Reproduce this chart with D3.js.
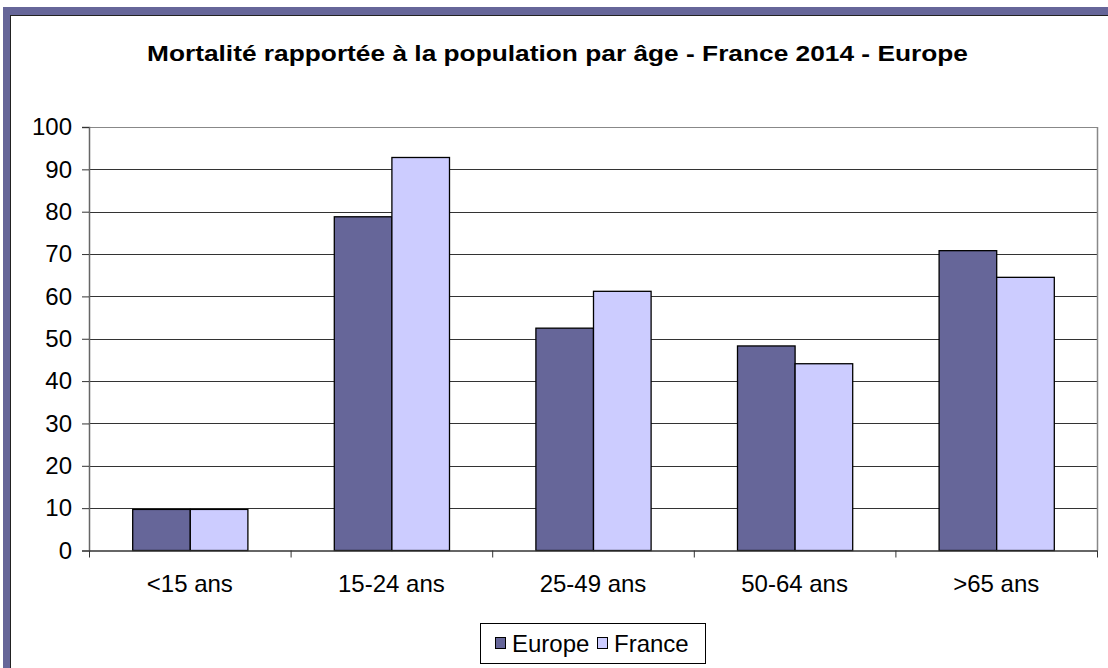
<!DOCTYPE html>
<html><head><meta charset="utf-8">
<script src="https://cdn.jsdelivr.net/npm/d3@7"></script>
<style>
html,body{margin:0;padding:0;background:#fff;}
svg{display:block;font-family:"Liberation Sans",Arial,sans-serif;}
</style></head>
<body><svg id="c" width="1108" height="668"></svg>
<script>
const title = "Mortalité rapportée à la population par âge - France 2014 - Europe";
const categories = ["<15 ans","15-24 ans","25-49 ans","50-64 ans",">65 ans"];
const seriesNames = ["Europe","France"];
const europe = [9.7, 78.8, 52.5, 48.3, 70.8];
const france = [9.7, 92.8, 61.2, 44.1, 64.5];
const yTicks = [0,10,20,30,40,50,60,70,80,90,100];
const colors = ["#666699","#ccccff"];

const svg = d3.select("#c");
// frame
svg.append("rect").attr("x",3).attr("y",7).attr("width",1105).attr("height",661).attr("fill","#666699");
svg.append("rect").attr("x",11).attr("y",15.5).attr("width",1097).attr("height",653).attr("fill","#fff");
svg.append("line").attr("x1",10.5).attr("x2",10.5).attr("y1",15).attr("y2",668).attr("stroke","#222").attr("stroke-width",1);
svg.append("line").attr("x1",10.5).attr("x2",1108).attr("y1",15.5).attr("y2",15.5).attr("stroke","#222").attr("stroke-width",1);

const L=89, R=1097, T=127, B=550.5;
const FS = 24;
const x = d3.scaleBand().domain(categories).range([L,R]).paddingInner(0).paddingOuter(0);
const y = d3.scaleLinear().domain([0,100]).range([B,T]);

svg.append("text").attr("x",557.5).attr("y",61).attr("text-anchor","middle")
  .attr("font-weight","bold").attr("font-size",22.5).attr("fill","#000")
  .attr("textLength",821).attr("lengthAdjust","spacingAndGlyphs").text(title);

// gridlines
svg.append("g").selectAll("line").data(yTicks.filter(d=>d>0)).join("line")
  .attr("x1",L).attr("x2",R).attr("y1",d=>Math.round(y(d))+0.5).attr("y2",d=>Math.round(y(d))+0.5)
  .attr("stroke",d=>d===100?"#888":"#333").attr("stroke-width",1);
// right border
svg.append("line").attr("x1",R+0.5).attr("x2",R+0.5).attr("y1",T).attr("y2",B).attr("stroke","#888").attr("stroke-width",1.5);

// bars
const inner = x.bandwidth();
const bw = inner/(2+1.5);
const gap = inner*0.5 - bw;
const data = [europe, france];
data.forEach((vals,si)=>{
  svg.append("g").selectAll("rect").data(categories).join("rect")
    .attr("x",c=>x(c)+gap+bw*si+0.5)
    .attr("y",(c,i)=>y(vals[i]))
    .attr("width",bw)
    .attr("height",(c,i)=>B-y(vals[i]))
    .attr("fill",colors[si]).attr("stroke","#000").attr("stroke-width",1.3);
});

// y axis
const ya = svg.append("g").attr("transform",`translate(${L},0)`)
  .call(d3.axisLeft(y).tickValues(yTicks).tickSize(7).tickPadding(10).tickFormat(d3.format("d")));
ya.select(".domain").attr("stroke","#666").attr("stroke-width",1.5);
ya.selectAll(".tick line").attr("stroke","#333");
ya.selectAll("text").attr("font-size",FS).attr("fill","#000").attr("font-family","Liberation Sans, Arial, sans-serif");

// x axis
const xa = svg.append("g").attr("transform",`translate(0,${B})`)
  .call(d3.axisBottom(x).tickSize(0));
xa.select(".domain").attr("stroke","#333").attr("stroke-width",1.3);
xa.selectAll("text").attr("font-size",FS).attr("fill","#000").attr("dy",0).attr("y",41.5)
  .attr("font-family","Liberation Sans, Arial, sans-serif");
// category separator ticks
svg.append("g").selectAll("line").data(d3.range(categories.length+1)).join("line")
  .attr("x1",i=>L+i*inner+0.5).attr("x2",i=>L+i*inner+0.5)
  .attr("y1",B).attr("y2",B+7).attr("stroke","#333");

// legend
const lg = svg.append("g");
lg.append("rect").attr("x",480.5).attr("y",623.5).attr("width",225).attr("height",40).attr("fill","#fff").attr("stroke","#000");
const lx = [495, 597];
seriesNames.forEach((n,i)=>{
  lg.append("rect").attr("x",lx[i]+0.5).attr("y",637.5).attr("width",10).attr("height",11).attr("fill",colors[i]).attr("stroke","#000");
  lg.append("text").attr("x",lx[i]+17).attr("y",652).attr("font-size",FS).attr("fill","#000").text(n);
});
</script></body></html>
